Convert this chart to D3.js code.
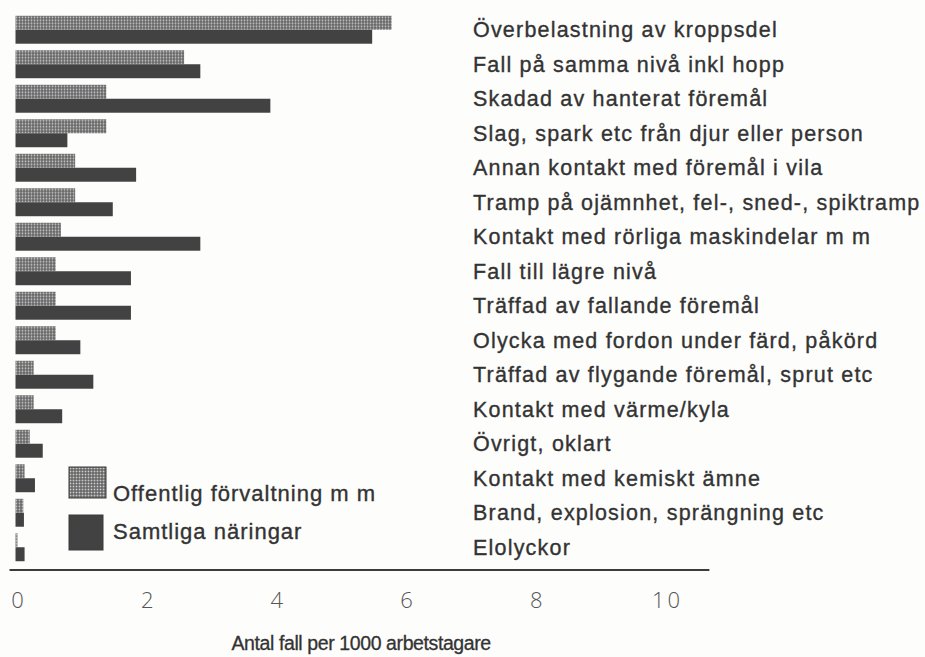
<!DOCTYPE html>
<html>
<head>
<meta charset="utf-8">
<script src="https://cdn.jsdelivr.net/npm/d3@7"></script>
<style>
  html, body { margin: 0; padding: 0; background: #fdfdfc; }
  svg { display: block; }
</style>
</head>
<body>
<svg id="chart" width="925" height="657"></svg>
<script>
const categories = [
  "Överbelastning av kroppsdel",
  "Fall på samma nivå inkl hopp",
  "Skadad av hanterat föremål",
  "Slag, spark etc från djur eller person",
  "Annan kontakt med föremål i vila",
  "Tramp på ojämnhet, fel-, sned-, spiktramp",
  "Kontakt med rörliga maskindelar m m",
  "Fall till lägre nivå",
  "Träffad av fallande föremål",
  "Olycka med fordon under färd, påkörd",
  "Träffad av flygande föremål, sprut etc",
  "Kontakt med värme/kyla",
  "Övrigt, oklart",
  "Kontakt med kemiskt ämne",
  "Brand, explosion, sprängning etc",
  "Elolyckor"
];
const offentlig = [5.8, 2.6, 1.4, 1.4, 0.92, 0.92, 0.7, 0.62, 0.62, 0.62, 0.28, 0.28, 0.22, 0.14, 0.12, 0.03];
const samtliga  = [5.5, 2.85, 3.93, 0.8, 1.86, 1.5, 2.85, 1.78, 1.78, 1.0, 1.2, 0.72, 0.42, 0.3, 0.13, 0.14];
const seriesNames = ["Offentlig förvaltning m m", "Samtliga näringar"];
const xTicks = [0, 2, 4, 6, 8, 10];
const axisTitle = "Antal fall per 1000 arbetstagare";

const svg = d3.select("#chart");
const defs = svg.append("defs");
const pat = defs.append("pattern")
  .attr("id", "dots").attr("patternUnits", "userSpaceOnUse")
  .attr("width", 3).attr("height", 3);
pat.append("rect").attr("width", 3).attr("height", 3).attr("fill", "#555");
pat.append("rect").attr("x", 0.55).attr("y", 0.55).attr("width", 1.9).attr("height", 1.9).attr("fill", "#cacaca");

const x = d3.scaleLinear().domain([0, 10]).range([15.5, 664]);
const y = d3.scaleBand().domain(categories).range([12.5, 564.5]).paddingInner(0.19).paddingOuter(0.095);
const sub = d3.scaleBand().domain(seriesNames).range([0, y.bandwidth()]);

const data = categories.map((c, i) => ({ c, vals: [offentlig[i], samtliga[i]] }));
const fills = ["url(#dots)", "#424242"];
const textColor = "#333";

const g = svg.append("g");
const rows = g.selectAll("g.row").data(data).join("g").attr("class", "row")
  .attr("transform", d => `translate(0,${y(d.c)})`);
rows.selectAll("rect").data(d => d.vals.map((v, k) => ({ v, k })))
  .join("rect")
  .attr("x", x(0))
  .attr("y", d => sub(seriesNames[d.k]))
  .attr("height", sub.bandwidth())
  .attr("width", d => x(d.v) - x(0))
  .attr("fill", d => fills[d.k]);

// category labels on right
g.selectAll("text.cat").data(categories).join("text")
  .attr("class", "cat")
  .attr("x", 473)
  .attr("y", d => y(d) + y.bandwidth() / 2)
  .attr("dy", "0.36em")
  .attr("font-family", "Liberation Sans, Arial, sans-serif")
  .attr("font-size", 21.5)
  .attr("letter-spacing", 1.2)
  .attr("fill", textColor)
  .attr("stroke", textColor).attr("stroke-width", 0.35)
  .text(d => d);

// x axis
const axisY = 570;
const axis = d3.axisBottom(x).tickValues(xTicks).tickSize(0).tickPadding(22).tickFormat(d3.format("d"));
const ax = svg.append("g").attr("transform", `translate(0,${axisY})`).call(axis);
ax.select(".domain").remove();
ax.append("line")
  .attr("x1", x(0) - 6).attr("x2", x(10.7))
  .attr("stroke", "#3c3c3c").attr("stroke-width", 2);
ax.selectAll(".tick text")
  .attr("font-family", "'Open Sans', sans-serif")
  .attr("font-weight", 300)
  .attr("font-size", 22)
  .attr("letter-spacing", 3)
  .attr("dx", 3)
  .attr("fill", "#555");

svg.append("text")
  .attr("x", x(5.33)).attr("y", 650)
  .attr("text-anchor", "middle")
  .attr("font-family", "Liberation Sans, Arial, sans-serif")
  .attr("font-size", 19.5)
  .attr("letter-spacing", -0.4)
  .attr("fill", textColor)
  .attr("stroke", textColor).attr("stroke-width", 0.3)
  .text(axisTitle);

// legend
const legend = svg.append("g").attr("transform", "translate(69,467)");
legend.selectAll("rect").data(seriesNames).join("rect")
  .attr("x", 0).attr("y", (d, i) => i * 48)
  .attr("width", (d, i) => i === 0 ? 37 : 34)
  .attr("height", (d, i) => i === 0 ? 31 : 35)
  .attr("fill", (d, i) => fills[i])
  .attr("stroke", "#3a3a3a").attr("stroke-width", 1);
legend.selectAll("text").data(seriesNames).join("text")
  .attr("x", 44).attr("y", (d, i) => i === 0 ? 26 : 64)
  .attr("dy", "0.36em")
  .attr("font-family", "Liberation Sans, Arial, sans-serif")
  .attr("font-size", 22)
  .attr("letter-spacing", 1)
  .attr("fill", textColor)
  .attr("stroke", textColor).attr("stroke-width", 0.35)
  .text(d => d);
</script>
</body>
</html>
